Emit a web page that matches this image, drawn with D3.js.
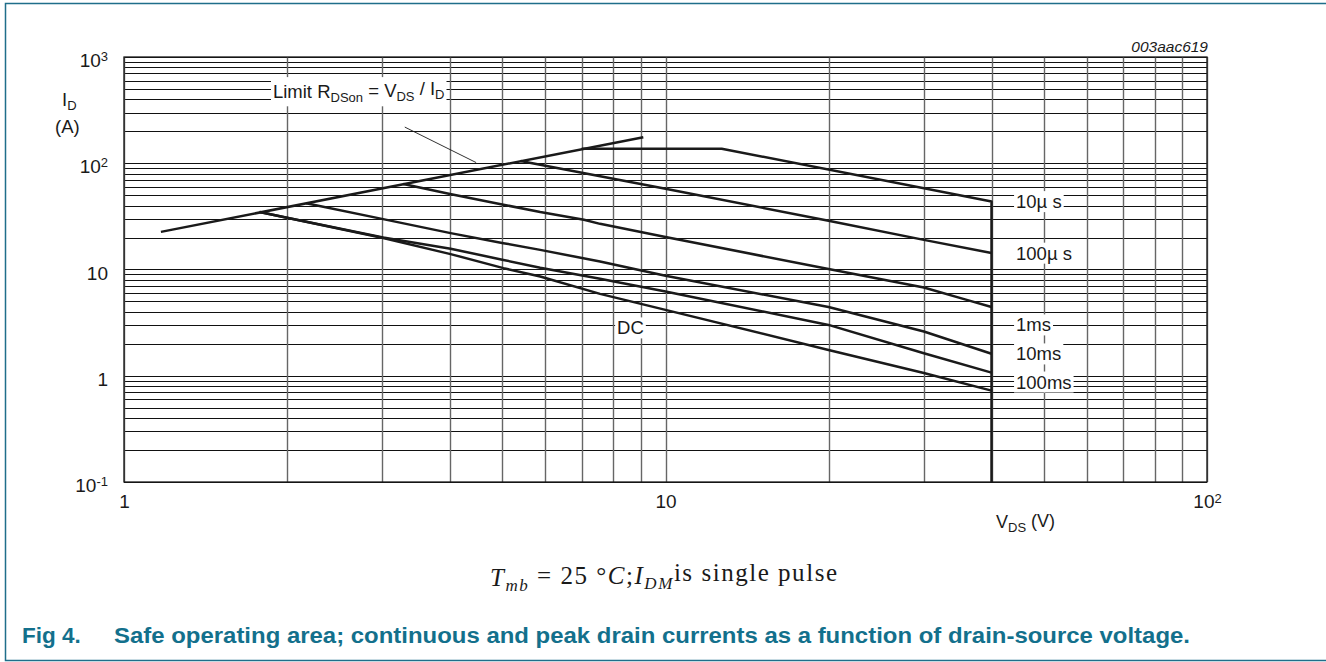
<!DOCTYPE html>
<html>
<head>
<meta charset="utf-8">
<script src="https://cdn.jsdelivr.net/npm/d3@7"></script>
<style>
  body { margin: 0; background: #fff; }
  svg text { font-family: Arial, "Liberation Sans", sans-serif; fill: #1a1a1a; }
</style>
</head>
<body>
<svg id="chart" width="1326" height="662"></svg>
<script>
// axis ranges and ticks
var xDomain = [1, 100];
var yDomain = [0.1, 1000];
var xTicks = [1, 10, 100];
var xTickBase = ["1", "10", "10"];
var xTickExp = ["", "", "2"];
var yTicks = [0.1, 1, 10, 100, 1000];
var yTickBase = ["10", "1", "10", "10", "10"];
var yTickExp = ["-1", "", "", "2", "3"];

// curves: V_DS (V) and I_D (A)
var limitV = [1.17, 9.1];
var limitI = [22.6, 176];
var us10V = [7.0, 12.7, 40, 40];
var us10I = [137, 137, 43.7, 0.1];
var us100V = [5.4, 10, 20, 30, 40];
var us100I = [105, 57.5, 28.8, 19.0, 14.3];
var ms1V = [3.28, 4.0, 5.02, 5.87, 7.07, 7.57, 10, 20, 30, 36, 40];
var ms1I = [63.7, 51.3, 40.7, 34.7, 29.4, 26.9, 20.2, 10.1, 6.77, 5.18, 4.43];
var ms10V = [2.17, 3.01, 4.01, 5.02, 5.87, 7.57, 10, 20, 30, 40];
var ms10I = [42.0, 29.8, 22.0, 17.7, 15.3, 11.9, 8.72, 4.43, 2.61, 1.61];
var ms100V = [1.78, 2.01, 3.01, 4.01, 5.02, 5.87, 7.57, 10, 20, 30, 40];
var ms100I = [34.8, 30.5, 20.0, 15.7, 12.3, 10.4, 8.17, 6.21, 3.01, 1.63, 1.07];
var dcV = [1.78, 2.01, 3.01, 4.01, 5.02, 5.87, 7.57, 10, 20, 30, 40];
var dcI = [34.8, 30.5, 19.8, 13.96, 10.3, 8.59, 5.90, 4.17, 1.75, 1.06, 0.725];

// curve labels (anchor in data units)
var labelText = ["10µ s", "100µ s", "1ms", "10ms", "100ms", "DC"];
var labelV = [44.4, 44.4, 44.4, 44.4, 44.4, 8.14];
var labelI = [43.7, 14.3, 3.02, 1.61, 0.876, 2.83];

var leaderV = [3.30, 4.47];
var leaderI = [219, 101.5];

var svg = d3.select("#chart"),
    margin = {top: 57, right: 119, bottom: 180, left: 124},
    width = 1326 - margin.left - margin.right,
    height = 662 - margin.top - margin.bottom,
    g = svg.append("g").attr("transform", "translate(" + margin.left + "," + margin.top + ")");

var x = d3.scaleLog().domain(xDomain).range([0, width]);
var y = d3.scaleLog().domain(yDomain).range([height, 0]);

// grid
g.append("g")
  .selectAll("line")
  .data(y.ticks())
  .enter().append("line")
    .attr("x1", 0).attr("x2", width)
    .attr("y1", function(d) { return Math.round(y(d)) + 0.5; })
    .attr("y2", function(d) { return Math.round(y(d)) + 0.5; })
    .attr("stroke", "#111").attr("stroke-width", 1.2);

g.append("g")
  .selectAll("line")
  .data(x.ticks())
  .enter().append("line")
    .attr("y1", 0).attr("y2", height)
    .attr("x1", function(d) { return Math.round(x(d)) + 0.5; })
    .attr("x2", function(d) { return Math.round(x(d)) + 0.5; })
    .attr("stroke", "#666").attr("stroke-width", 1.4);

g.append("rect")
  .attr("width", width).attr("height", height)
  .attr("fill", "none").attr("stroke", "#1a1a1a").attr("stroke-width", 1.3);

// axes labels with superscripts
function supLabels(sel, base, exp) {
  sel.selectAll(".tick text").each(function(d, i) {
    var t = d3.select(this).text("");
    t.append("tspan").text(base[i]);
    if (exp[i]) {
      t.append("tspan").attr("dy", "-0.45em").attr("font-size", "13px").text(exp[i]);
    }
  });
}

var yAxis = g.append("g")
  .call(d3.axisLeft(y).tickValues(yTicks).tickSize(0).tickPadding(16).tickFormat(""));
yAxis.select(".domain").remove();
yAxis.selectAll(".tick text").attr("font-size", "19px").attr("dy", "0.5em").attr("fill", "#1a1a1a");
supLabels(yAxis, yTickBase, yTickExp);

var xAxis = g.append("g")
  .attr("transform", "translate(0," + height + ")")
  .call(d3.axisBottom(x).tickValues(xTicks).tickSize(0).tickPadding(13).tickFormat(""));
xAxis.select(".domain").remove();
xAxis.selectAll(".tick text").attr("font-size", "19px").attr("fill", "#1a1a1a");
supLabels(xAxis, xTickBase, xTickExp);

// curves
var line = d3.line()
  .x(function(d) { return x(d[0]); })
  .y(function(d) { return y(d[1]); });

function pairs(v, c) { return v.map(function(d, i) { return [d, c[i]]; }); }

var series = [
  pairs(limitV, limitI), pairs(us10V, us10I), pairs(us100V, us100I),
  pairs(ms1V, ms1I), pairs(ms10V, ms10I), pairs(ms100V, ms100I), pairs(dcV, dcI)
];

g.append("g")
  .selectAll("path")
  .data(series)
  .enter().append("path")
    .attr("d", line)
    .attr("fill", "none")
    .attr("stroke", "#1a1a1a")
    .attr("stroke-width", 2.5)
    .attr("stroke-linejoin", "round");

// leader for the limit label
g.append("path")
  .attr("d", line(pairs(leaderV, leaderI)))
  .attr("stroke", "#1a1a1a").attr("stroke-width", 0.9);

// labels with white boxes
function boxed(t, padX, padY) {
  var b = t.node().getBBox();
  d3.select(t.node().parentNode).insert("rect", function() { return t.node(); })
    .attr("x", b.x - padX).attr("y", b.y - padY)
    .attr("width", b.width + 2 * padX).attr("height", b.height + 2 * padY)
    .attr("fill", "#fff");
}

var labels = g.append("g");
labelText.forEach(function(s, i) {
  var t = labels.append("text")
    .attr("x", x(labelV[i]))
    .attr("y", y(labelI[i]))
    .attr("dy", "0.36em")
    .attr("font-size", "18.5px")
    .style("white-space", "pre")
    .text(s);
  boxed(t, 2, 0);
});

var lim = g.append("text")
  .attr("x", x(1.884)).attr("y", y(471)).attr("dy", "0.36em")
  .attr("font-size", "18.5px");
lim.append("tspan").text("Limit R");
lim.append("tspan").attr("font-size", "13px").attr("dy", "0.3em").text("DSon");
lim.append("tspan").attr("dy", "-0.3em").text(" = V");
lim.append("tspan").attr("font-size", "13px").attr("dy", "0.3em").text("DS");
lim.append("tspan").attr("dy", "-0.3em").text(" / I");
lim.append("tspan").attr("font-size", "13px").attr("dy", "0.3em").text("D");
boxed(lim, 2, 1);

// axis titles
var yt = svg.append("text").attr("x", 62).attr("y", 106).attr("font-size", "18.5px");
yt.append("tspan").text("I");
yt.append("tspan").attr("font-size", "13px").attr("dy", "0.3em").text("D");
svg.append("text").attr("x", 55).attr("y", 133).attr("font-size", "18.5px").text("(A)");

var xt = svg.append("text").attr("x", 996).attr("y", 528).attr("font-size", "18px");
xt.append("tspan").text("V");
xt.append("tspan").attr("font-size", "13px").attr("dy", "0.3em").text("DS");
xt.append("tspan").attr("dy", "-0.3em").text(" (V)");

svg.append("text")
  .attr("x", 1208).attr("y", 52)
  .attr("text-anchor", "end")
  .attr("font-size", "15.5px")
  .attr("font-style", "italic")
  .text("003aac619");

// conditions line
var cond = svg.append("text")
  .attr("x", 490).attr("y", 586)
  .attr("textLength", 347).attr("lengthAdjust", "spacing")
  .style("font-family", "'Liberation Serif', 'DejaVu Serif', serif")
  .attr("font-size", "25px");
cond.append("tspan").attr("font-style", "italic").text("T");
cond.append("tspan").attr("font-style", "italic").attr("font-size", "17px").attr("dy", "0.3em").text("mb");
cond.append("tspan").attr("dy", "-0.3em").text(" = 25 °");
cond.append("tspan").attr("font-style", "italic").text("C");
cond.append("tspan").text(";");
cond.append("tspan").attr("font-style", "italic").text("I");
cond.append("tspan").attr("font-style", "italic").attr("font-size", "17px").attr("dy", "0.3em").text("DM");
cond.append("tspan").attr("dy", "-0.3em").text("is single pulse");

// frame and caption
svg.append("path")
  .attr("d", "M1326,3.5H5.5V660.5H1326")
  .attr("fill", "none").attr("stroke", "#1f6e8a").attr("stroke-width", 1.5);

svg.append("text")
  .attr("x", 22).attr("y", 643)
  .attr("font-size", "22.5px").attr("font-weight", "bold")
  .style("fill", "#13708c")
  .text("Fig 4.");
svg.append("text")
  .attr("x", 114).attr("y", 643)
  .attr("textLength", 1076).attr("lengthAdjust", "spacingAndGlyphs")
  .attr("font-size", "22.5px").attr("font-weight", "bold")
  .style("fill", "#13708c")
  .text("Safe operating area; continuous and peak drain currents as a function of drain-source voltage.");
</script>
</body>
</html>
